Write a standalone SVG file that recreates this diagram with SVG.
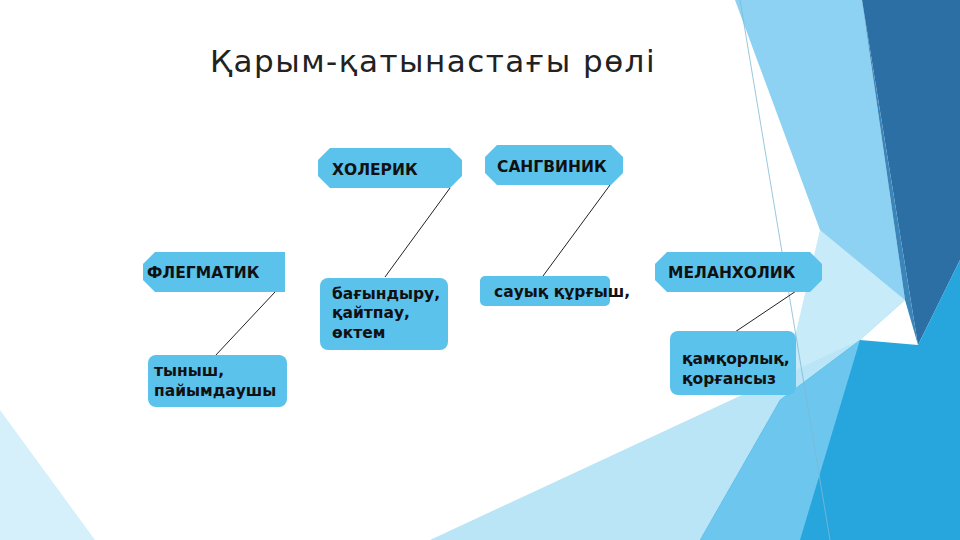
<svg xmlns="http://www.w3.org/2000/svg" width="960" height="540" viewBox="0 0 960 540">
<style>
.h{fill:#5bc2ec}
.t{font-family:"DejaVu Sans","Noto Sans",sans-serif;font-weight:bold;font-size:15.5px;fill:#111}
.c{stroke:#222;stroke-width:1}
</style>
<rect width="960" height="540" fill="#fff"/>
<g id="bg">
<polygon points="0,410 0,540 95,540" fill="#d6f0fb"/>
<polygon points="735,0 862,0 905,300 860,340 820,230" fill="#8dd2f2"/>
<polygon points="820,230 905,300 860,340 780,400" fill="#c7ebf9"/>
<polygon points="862,0 960,0 960,260 918,345" fill="#2c6fa5"/>
<polygon points="862,0 918,345 905,300" fill="#3a86bb"/>
<polygon points="860,340 918,345 960,260 960,540 560,540" fill="#26a6dd"/>
<polygon points="430,540 860,340 780,400 700,540" fill="#b9e5f7"/>
<polygon points="700,540 780,400 860,340 800,540" fill="#6cc6ee"/>
<line x1="740" y1="0" x2="830" y2="540" stroke="#7fb9d6" stroke-width="0.8"/>
</g>
<text x="210" y="72" font-family="DejaVu Sans,sans-serif" font-size="31" letter-spacing="1.5" fill="#222">Қарым-қатынастағы рөлі</text>
<g id="connectors">
<line class="c" x1="450" y1="188" x2="385" y2="277"/>
<line class="c" x1="610" y1="185" x2="543" y2="276"/>
<line class="c" x1="275" y1="292" x2="215" y2="356"/>
<line class="c" x1="808" y1="283" x2="735" y2="332"/>
</g>
<g id="holerik"><polygon class="h" points="330,148 450,148 462,160 462,176 450,188 330,188 318,176 318,160"/><text class="t" x="332" y="175">ХОЛЕРИК</text></g>
<g id="sangvinik"><polygon class="h" points="497,145 611,145 623,157 623,173 611,185 497,185 485,173 485,157"/><text class="t" x="497" y="172">САНГВИНИК</text></g>
<g id="flegmatik"><polygon class="h" points="155,252 285,252 285,292 155,292 143,280 143,264"/><text class="t" x="147" y="278">ФЛЕГМАТИК</text></g>
<g id="melanholik"><polygon class="h" points="667,252 810,252 822,264 822,280 810,292 667,292 655,280 655,264"/><text class="t" x="668" y="278">МЕЛАНХОЛИК</text></g>
<g id="bagyndyru"><rect class="h" x="320" y="278" width="128" height="72" rx="8"/><text class="t" x="332" y="299">бағындыру,</text><text class="t" x="332" y="318">қайтпау,</text><text class="t" x="332" y="338">өктем</text></g>
<g id="sauyk"><rect class="h" x="480" y="276" width="130" height="30" rx="5"/><text class="t" x="494" y="297" font-weight="normal">сауық құрғыш,</text></g>
<g id="tynysh"><rect class="h" x="148" y="355" width="139" height="52" rx="8"/><text class="t" x="154" y="376">тыныш,</text><text class="t" x="154" y="396">пайымдаушы</text></g>
<g id="kamkorlyk"><rect class="h" x="670" y="331" width="126" height="64" rx="8"/><text class="t" x="682" y="364">қамқорлық,</text><text class="t" x="682" y="384">қорғансыз</text></g>
</svg>
